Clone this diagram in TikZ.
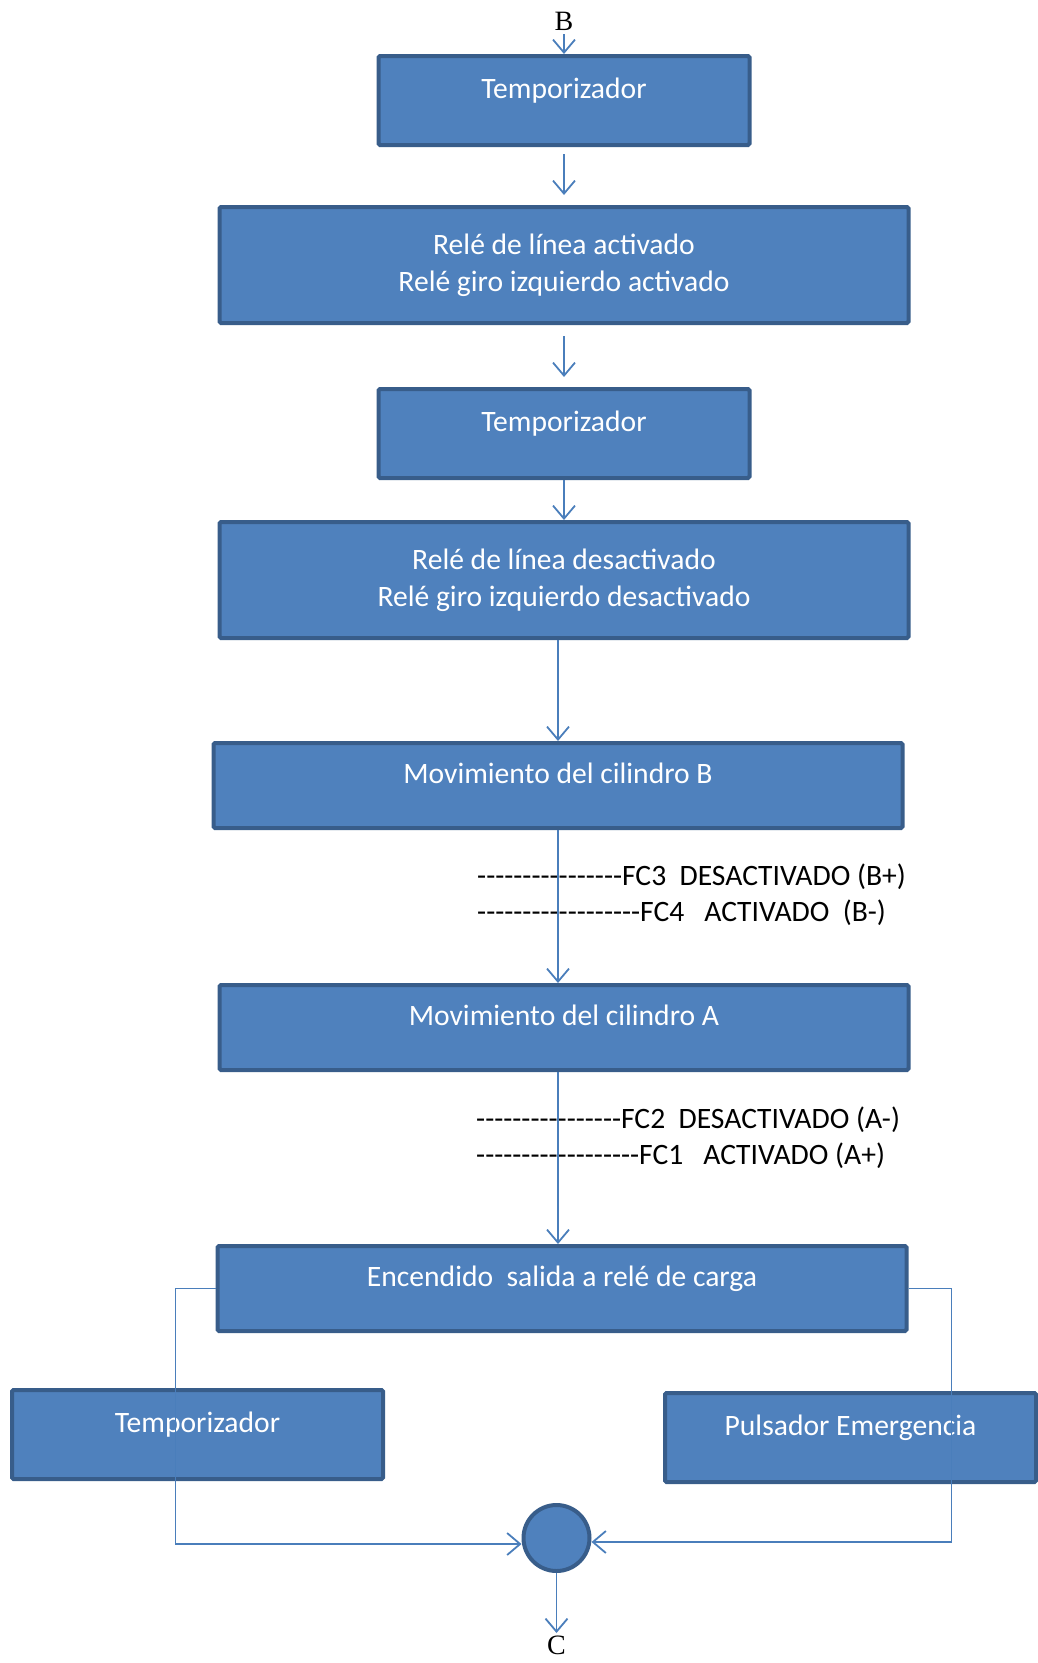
\documentclass[tikz,border=0pt]{standalone}
\usepackage{fontspec}
\setmainfont{Carlito}[Ligatures=TeXOff]
\newfontfamily\letrafont{Liberation Serif}
\usetikzlibrary{positioning, arrows.meta}

\definecolor{relleno}{RGB}{79,129,189}
\definecolor{borde}{RGB}{56,93,138}
\definecolor{linea}{RGB}{74,126,187}

\tikzset{
	caja/.style={rectangle, draw=borde, fill=relleno, line width=4pt, rounded corners=1.5pt, text=white, align=center, inner sep=0pt, font=\fontsize{29.6}{37}\selectfont},
	cajac/.style={caja, minimum width=371pt, minimum height=89pt, text depth=24pt},
	cajal/.style={caja, minimum width=689pt, minimum height=116pt},
	cajam/.style={caja, minimum width=689pt, minimum height=85pt, text depth=24pt},
	circulo/.style={circle, draw=borde, fill=relleno, line width=4pt, minimum size=66pt, inner sep=0pt},
	letra/.style={inner sep=3pt, font=\letrafont\fontsize{28}{30}\selectfont},
	etiqueta/.style={anchor=west, inner sep=0pt, font=\fontsize{29.6}{37}\selectfont},
	flecha/.style={draw=linea, line width=1.8pt}
}

\begin{document}
\begin{tikzpicture}[x=1pt, y=-1pt, >={Straight Barb[length=13pt,width=22pt]}]
	\useasboundingbox (0,0) rectangle (1038,1663);

	\node[cajac] (t1) at (564,100.5) {Temporizador};
	\node[cajal, below=58pt of t1] (rl1) {Relé de línea activado\\Relé giro izquierdo activado};
	\node[cajac, below=62pt of rl1] (t2) {Temporizador};
	\node[cajal, below=40pt of t2] (rl2) {Relé de línea desactivado\\Relé giro izquierdo desactivado};
	\node[cajam, below=101pt of rl2, xshift=-6pt] (mb) {Movimiento del cilindro B};
	\node[cajam, below=153pt of mb, xshift=6pt] (ma) {Movimiento del cilindro A};
	\node[cajam, below=172pt of ma, xshift=-2pt] (enc) {Encendido~ salida a relé de carga};
	\node[cajac, below=55pt of enc.south west, xshift=-18pt] (t3) {Temporizador};
	\node[cajac, below=58pt of enc.south east, xshift=-58pt] (pe) {Pulsador Emergencia};
	\node[circulo, below=170pt of enc, xshift=-5.5pt] (suma) {};
	\node[letra, above=20pt of t1] (b) {B};
	\node[letra, below=60pt of suma] (c) {C};

	\node[etiqueta] (fc3) at (477,877) {----------------FC3~ DESACTIVADO (B+)};
	\node[etiqueta] (fc4) at (477,913) {------------------FC4~~ ACTIVADO~ (B-)};
	\node[etiqueta] (fc2) at (476,1120) {----------------FC2~ DESACTIVADO (A-)};
	\node[etiqueta] (fc1) at (476,1156) {------------------FC1~~ ACTIVADO (A+)};

	\path[->, flecha] (b) edge (t1);
	\path[->, flecha, shorten <=7pt, shorten >=10pt] (t1) edge (rl1);
	\path[->, flecha, shorten <=11pt, shorten >=10pt] (rl1) edge (t2);
	\path[->, flecha] (t2) edge (rl2);
	\draw[->, flecha] (rl2.south -| mb.north) -- (mb.north);
	\draw[->, flecha] (mb.south) -- (mb.south |- ma.north);
	\draw[->, flecha] ([xshift=-4pt]ma.south -| enc.north) -- ([xshift=-4pt]enc.north);
	\draw[->, flecha] (enc.west) -| ([xshift=-22pt]t3.north) |- ([yshift=-6pt]suma.west);
	\draw[->, flecha] (enc.east) -| ([xshift=101pt]pe.north) |- ([yshift=-4pt]suma.east);
	\path[->, flecha] (suma) edge (c);
\end{tikzpicture}
\end{document}
